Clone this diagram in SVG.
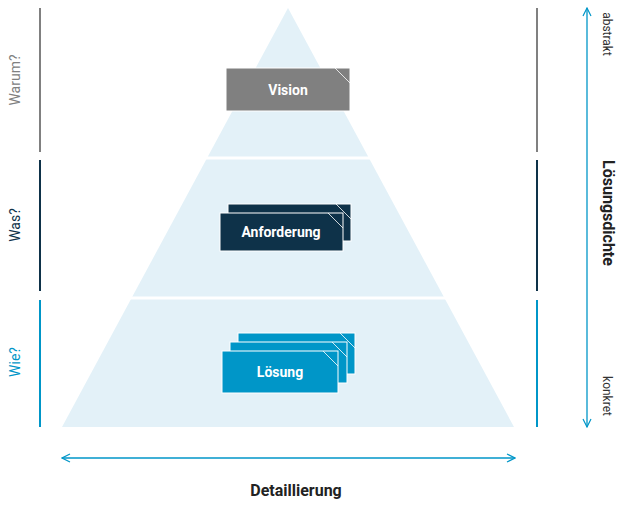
<svg xmlns="http://www.w3.org/2000/svg" width="626" height="513" viewBox="0 0 626 513">
<style>
.lbl{font-family:Roboto,"Liberation Sans",sans-serif;font-size:14px;font-weight:bold;fill:#fff;text-anchor:middle}
.side{font-family:Roboto,"Liberation Sans",sans-serif;font-size:14px;text-anchor:middle}
.sm{font-family:Roboto,"Liberation Sans",sans-serif;font-size:12px;fill:#333;text-anchor:middle}
.corner{stroke:#fff;stroke-width:1;opacity:0.8}
.card{stroke:#fff;stroke-width:1}
</style>
<defs>
<marker id="ah" viewBox="0 0 10 10" refX="9" refY="5" markerWidth="10" markerHeight="10" orient="auto-start-reverse" markerUnits="userSpaceOnUse">
<path d="M1,1 L9,5 L1,9" fill="none" stroke="#0096c8" stroke-width="1.2"/>
</marker>
</defs>
<rect width="626" height="513" fill="#fff"/>
<g id="pyramid">
<polygon points="288,8 514,427 62,427" fill="#e3f1f8"/>
<line x1="150" y1="158" x2="430" y2="158" stroke="#fff" stroke-width="3"/>
<line x1="100" y1="298" x2="480" y2="298" stroke="#fff" stroke-width="3"/>
</g>
<g id="vision">
<rect x="226" y="68" width="124" height="43" fill="#808080" class="card"/>
<line x1="335" y1="68" x2="350" y2="83" class="corner"/>
<text x="288" y="95" class="lbl">Vision</text>
</g>
<g id="anforderung">
<rect x="228" y="204" width="123" height="37" fill="#0e3249" class="card"/>
<line x1="336" y1="204" x2="351" y2="219" class="corner"/>
<rect x="220" y="213" width="123" height="38" fill="#0e3249" class="card"/>
<line x1="328" y1="213" x2="343" y2="228" class="corner"/>
<text x="281" y="237" class="lbl">Anforderung</text>
</g>
<g id="loesung">
<rect x="238" y="333" width="117" height="41" fill="#0096c8" class="card"/>
<line x1="340" y1="333" x2="355" y2="348" class="corner"/>
<rect x="230" y="342" width="117" height="41" fill="#0096c8" class="card"/>
<line x1="332" y1="342" x2="347" y2="357" class="corner"/>
<rect x="222" y="351" width="116" height="42" fill="#0096c8" class="card"/>
<line x1="323" y1="351" x2="338" y2="366" class="corner"/>
<text x="280" y="377" class="lbl">Lösung</text>
</g>
<g id="side-lines" stroke-width="2">
<line x1="40" y1="8" x2="40" y2="152" stroke="#808080"/>
<line x1="40" y1="160" x2="40" y2="291" stroke="#0e3249"/>
<line x1="40" y1="300" x2="40" y2="427" stroke="#0096c8"/>
<line x1="537" y1="8" x2="537" y2="152" stroke="#808080"/>
<line x1="537" y1="160" x2="537" y2="291" stroke="#0e3249"/>
<line x1="537" y1="300" x2="537" y2="427" stroke="#0096c8"/>
</g>
<g id="side-labels">
<text class="side" transform="translate(20,80) rotate(-90)" fill="#808080">Warum?</text>
<text class="side" transform="translate(20,225) rotate(-90)" fill="#0e3249">Was?</text>
<text class="side" transform="translate(20,362) rotate(-90)" fill="#0096c8">Wie?</text>
</g>
<g id="connectors" stroke="#0096c8" stroke-width="1.3">
<line x1="62" y1="458" x2="515" y2="458" marker-start="url(#ah)" marker-end="url(#ah)"/>
<line x1="587" y1="8" x2="587" y2="427" marker-start="url(#ah)" marker-end="url(#ah)"/>
</g>
<g id="axis-labels">
<text x="296" y="496" font-family="Roboto,'Liberation Sans',sans-serif" font-size="16" font-weight="bold" fill="#222" text-anchor="middle">Detaillierung</text>
<text class="sm" transform="translate(603,34) rotate(90)">abstrakt</text>
<text class="sm" transform="translate(603,396) rotate(90)">konkret</text>
<text transform="translate(603,213) rotate(90)" font-family="Roboto,'Liberation Sans',sans-serif" font-size="16" font-weight="bold" fill="#222" text-anchor="middle">Lösungsdichte</text>
</g>
</svg>
